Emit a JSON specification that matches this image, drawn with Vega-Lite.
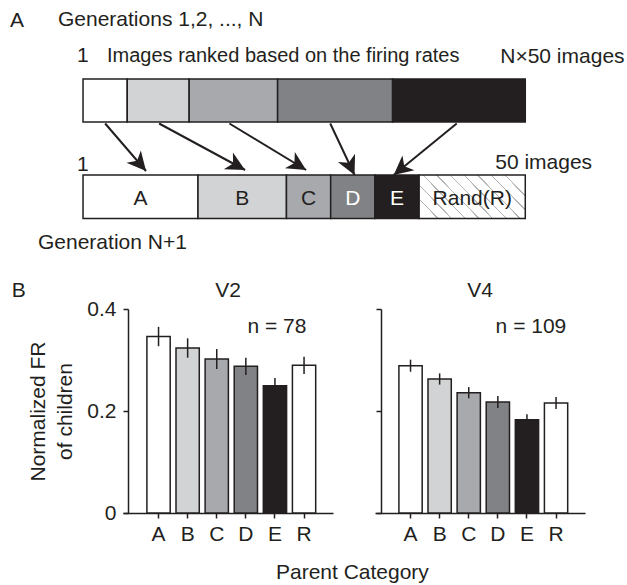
{
  "$schema": "https://vega.github.io/schema/vega-lite/v6.json",
  "padding": {"left": 10, "top": 0, "right": 0, "bottom": 0},
  "spacing": 20,
  "datasets": {
    "segments": [
      {"bar": "parents", "cat": "A", "from": 0, "to": 0.1, "top": 7.9, "bottom": 12.2, "label": ""},
      {"bar": "parents", "cat": "B", "from": 0.1, "to": 0.24, "top": 7.9, "bottom": 12.2, "label": ""},
      {"bar": "parents", "cat": "C", "from": 0.24, "to": 0.44, "top": 7.9, "bottom": 12.2, "label": ""},
      {"bar": "parents", "cat": "D", "from": 0.44, "to": 0.7, "top": 7.9, "bottom": 12.2, "label": ""},
      {"bar": "parents", "cat": "E", "from": 0.7, "to": 1.0, "top": 7.9, "bottom": 12.2, "label": ""},
      {"bar": "children", "cat": "A", "from": 0, "to": 0.26, "top": 17.5, "bottom": 21.85, "label": "A"},
      {"bar": "children", "cat": "B", "from": 0.26, "to": 0.46, "top": 17.5, "bottom": 21.85, "label": "B"},
      {"bar": "children", "cat": "C", "from": 0.46, "to": 0.56, "top": 17.5, "bottom": 21.85, "label": "C"},
      {"bar": "children", "cat": "D", "from": 0.56, "to": 0.66, "top": 17.5, "bottom": 21.85, "label": "D"},
      {"bar": "children", "cat": "E", "from": 0.66, "to": 0.76, "top": 17.5, "bottom": 21.85, "label": "E"},
      {"bar": "children", "cat": "R", "from": 0.76, "to": 1.0, "top": 17.5, "bottom": 21.85, "label": "Rand(R)"}
    ],
    "arrows": [
      {"sx": 0.05, "sy": 12.35, "tx": 0.1425, "ty": 17.1},
      {"sx": 0.172, "sy": 12.35, "tx": 0.3665, "ty": 17.0},
      {"sx": 0.331, "sy": 12.35, "tx": 0.5045, "ty": 17.0},
      {"sx": 0.559, "sy": 12.35, "tx": 0.614, "ty": 17.5},
      {"sx": 0.845, "sy": 12.35, "tx": 0.7025, "ty": 17.5}
    ],
    "notes": [
      {"text": "A", "x": -0.165, "y": 2.7, "size": "l"},
      {"text": "Generations 1,2, ..., N", "x": -0.0566, "y": 2.6, "size": "l"},
      {"text": "1", "x": -0.0136, "y": 6.2, "size": "l"},
      {"text": "Images ranked based on the firing rates", "x": 0.0543, "y": 6.2, "size": "s"},
      {"text": "N×50 images", "x": 0.9434, "y": 6.25, "size": "l"},
      {"text": "1", "x": -0.0136, "y": 17.1, "size": "l"},
      {"text": "50 images", "x": 0.932, "y": 16.85, "size": "l"},
      {"text": "Generation N+1", "x": -0.1018, "y": 24.9, "size": "l"}
    ],
    "fr": [
      {"area": "V2", "cat": "A", "fr": 0.346, "err": 0.019},
      {"area": "V2", "cat": "B", "fr": 0.3235, "err": 0.019},
      {"area": "V2", "cat": "C", "fr": 0.302, "err": 0.0196},
      {"area": "V2", "cat": "D", "fr": 0.2876, "err": 0.017},
      {"area": "V2", "cat": "E", "fr": 0.2497, "err": 0.015},
      {"area": "V2", "cat": "R", "fr": 0.2895, "err": 0.017},
      {"area": "V4", "cat": "A", "fr": 0.2888, "err": 0.0118},
      {"area": "V4", "cat": "B", "fr": 0.2627, "err": 0.011},
      {"area": "V4", "cat": "C", "fr": 0.2359, "err": 0.011},
      {"area": "V4", "cat": "D", "fr": 0.2176, "err": 0.0118},
      {"area": "V4", "cat": "E", "fr": 0.183, "err": 0.0105},
      {"area": "V4", "cat": "R", "fr": 0.2157, "err": 0.0118}
    ]
  },
  "vconcat": [
    {
      "width": 504,
      "height": 260,
      "layer": [
        {
          "data": {"name": "segments"},
          "transform": [{"filter": "datum.cat !== 'R'"}],
          "mark": {"type": "rect", "stroke": "#231f20", "strokeWidth": 1.5},
          "encoding": {
            "x": {"field": "from", "type": "quantitative", "scale": {"domain": [0.0904, 1.23], "nice": false, "zero": false}, "axis": null},
            "x2": {"field": "to"},
            "y": {"field": "top", "type": "quantitative", "scale": {"domain": [0, 26], "reverse": true, "nice": false, "zero": false}, "axis": null},
            "y2": {"field": "bottom"},
            "fill": {"field": "cat", "type": "nominal", "scale": {"domain": ["A", "B", "C", "D", "E", "R"], "range": ["#ffffff", "#d1d3d4", "#a7a9ac", "#808285", "#231f20", "#ffffff"]}, "legend": null}
          }
        },
        {
          "data": {"name": "segments"},
          "transform": [{"filter": "datum.cat === 'R'"}],
          "mark": {
            "type": "rect", "stroke": "#231f20", "strokeWidth": 1.5,
            "fill": {
              "gradient": "linear", "x1": 0, "y1": 0.7, "x2": 1, "y2": 0.3,
              "stops": [
                {"offset": 0, "color": "#ffffff"},
                {"offset": 0.044, "color": "#ffffff"}, {"offset": 0.045, "color": "#b4b4b4"}, {"offset": 0.055, "color": "#b4b4b4"}, {"offset": 0.056, "color": "#ffffff"},
                {"offset": 0.155, "color": "#ffffff"}, {"offset": 0.156, "color": "#b4b4b4"}, {"offset": 0.166, "color": "#b4b4b4"}, {"offset": 0.167, "color": "#ffffff"},
                {"offset": 0.266, "color": "#ffffff"}, {"offset": 0.267, "color": "#b4b4b4"}, {"offset": 0.277, "color": "#b4b4b4"}, {"offset": 0.278, "color": "#ffffff"},
                {"offset": 0.377, "color": "#ffffff"}, {"offset": 0.378, "color": "#b4b4b4"}, {"offset": 0.388, "color": "#b4b4b4"}, {"offset": 0.389, "color": "#ffffff"},
                {"offset": 0.488, "color": "#ffffff"}, {"offset": 0.489, "color": "#b4b4b4"}, {"offset": 0.499, "color": "#b4b4b4"}, {"offset": 0.5, "color": "#ffffff"},
                {"offset": 0.599, "color": "#ffffff"}, {"offset": 0.6, "color": "#b4b4b4"}, {"offset": 0.61, "color": "#b4b4b4"}, {"offset": 0.611, "color": "#ffffff"},
                {"offset": 0.71, "color": "#ffffff"}, {"offset": 0.711, "color": "#b4b4b4"}, {"offset": 0.721, "color": "#b4b4b4"}, {"offset": 0.722, "color": "#ffffff"},
                {"offset": 0.821, "color": "#ffffff"}, {"offset": 0.822, "color": "#b4b4b4"}, {"offset": 0.832, "color": "#b4b4b4"}, {"offset": 0.833, "color": "#ffffff"},
                {"offset": 0.932, "color": "#ffffff"}, {"offset": 0.933, "color": "#b4b4b4"}, {"offset": 0.943, "color": "#b4b4b4"}, {"offset": 0.944, "color": "#ffffff"},
                {"offset": 1, "color": "#ffffff"}
              ]
            }
          },
          "encoding": {
            "x": {"field": "from", "type": "quantitative", "scale": {"domain": [0.0904, 1.23], "nice": false, "zero": false}, "axis": null},
            "x2": {"field": "to"},
            "y": {"field": "top", "type": "quantitative", "scale": {"domain": [0, 26], "reverse": true, "nice": false, "zero": false}, "axis": null},
            "y2": {"field": "bottom"}
          }
        },
        {
          "data": {"name": "arrows"},
          "mark": {"type": "rule", "color": "#231f20", "strokeWidth": 2},
          "encoding": {
            "x": {"field": "sx", "type": "quantitative", "scale": {"domain": [0.0904, 1.23], "nice": false, "zero": false}, "axis": null},
            "y": {"field": "sy", "type": "quantitative", "scale": {"domain": [0, 26], "reverse": true, "nice": false, "zero": false}, "axis": null},
            "x2": {"field": "tx"},
            "y2": {"field": "ty"}
          }
        },
        {
          "data": {"name": "arrows"},
          "transform": [{"calculate": "-atan2((datum.tx - datum.sx) * 442.3, (datum.ty - datum.sy) * 10) * 180 / PI", "as": "ang"}],
          "mark": {"type": "point", "shape": "M0,0L-0.5,-1L0,-0.72L0.5,-1Z", "size": 1444, "filled": true, "color": "#231f20", "opacity": 1, "strokeWidth": 0},
          "encoding": {
            "x": {"field": "tx", "type": "quantitative", "scale": {"domain": [0.0904, 1.23], "nice": false, "zero": false}, "axis": null},
            "y": {"field": "ty", "type": "quantitative", "scale": {"domain": [0, 26], "reverse": true, "nice": false, "zero": false}, "axis": null},
            "angle": {"field": "ang", "type": "quantitative", "scale": null}
          }
        },
        {
          "data": {"name": "segments"},
          "transform": [{"filter": "datum.bar === 'children'"}, {"calculate": "(datum.from + datum.to) / 2", "as": "mid"}],
          "mark": {"type": "text", "fontSize": 21, "align": "center", "baseline": "middle"},
          "encoding": {
            "x": {"field": "mid", "type": "quantitative", "scale": {"domain": [0.0904, 1.23], "nice": false, "zero": false}, "axis": null},
            "y": {"datum": 19.85, "type": "quantitative", "scale": {"domain": [0, 26], "reverse": true, "nice": false, "zero": false}, "axis": null},
            "text": {"field": "label"},
            "color": {"condition": {"test": "datum.cat === 'D' || datum.cat === 'E'", "value": "#ffffff"}, "value": "#231f20"}
          }
        },
        {
          "data": {"name": "notes"},
          "transform": [{"filter": "datum.size === 'l'"}],
          "mark": {"type": "text", "fontSize": 21, "align": "left", "baseline": "alphabetic", "color": "#231f20"},
          "encoding": {
            "x": {"field": "x", "type": "quantitative", "scale": {"domain": [0.0904, 1.23], "nice": false, "zero": false}, "axis": null},
            "y": {"field": "y", "type": "quantitative", "scale": {"domain": [0, 26], "reverse": true, "nice": false, "zero": false}, "axis": null},
            "text": {"field": "text"}
          }
        },
        {
          "data": {"name": "notes"},
          "transform": [{"filter": "datum.size === 's'"}],
          "mark": {"type": "text", "fontSize": 20, "align": "left", "baseline": "alphabetic", "color": "#231f20"},
          "encoding": {
            "x": {"field": "x", "type": "quantitative", "scale": {"domain": [0.0904, 1.23], "nice": false, "zero": false}, "axis": null},
            "y": {"field": "y", "type": "quantitative", "scale": {"domain": [0, 26], "reverse": true, "nice": false, "zero": false}, "axis": null},
            "text": {"field": "text"}
          }
        }
      ]
    },
    {
      "title": {"text": "B", "orient": "left", "anchor": "end", "angle": 0, "align": "right", "baseline": "top", "offset": -12},
      "hconcat": [
        {
          "title": {"text": "Parent Category", "orient": "bottom", "anchor": "middle", "offset": 18, "dx": 46},
          "spacing": 42,
          "hconcat": [
            {
              "width": 210,
              "height": 204,
              "title": {"text": "V2", "offset": -3},
              "data": {"name": "fr"},
              "transform": [{"filter": "datum.area === 'V2'"}],
              "encoding": {
                "x": {"field": "cat", "type": "nominal", "scale": {"paddingInner": 0.2, "paddingOuter": 0.708, "align": 0.58}, "axis": {"title": null, "labelAngle": 0, "labelPadding": 5}},
                "y": {"field": "fr", "type": "quantitative", "scale": {"domain": [0, 0.4], "nice": false}, "axis": {"values": [0, 0.2, 0.4], "format": ".1~f", "title": ["Normalized FR", "of children"], "titleLineHeight": 27, "labelPadding": 7, "titlePadding": 11, "offset": -5}}
              },
              "layer": [
                {
                  "mark": {"type": "bar", "stroke": "#231f20", "strokeWidth": 1.5},
                  "encoding": {
                    "fill": {"field": "cat", "type": "nominal", "scale": {"domain": ["A", "B", "C", "D", "E", "R"], "range": ["#ffffff", "#d1d3d4", "#a7a9ac", "#808285", "#231f20", "#ffffff"]}, "legend": null}
                  }
                },
                {
                  "mark": {"type": "errorbar", "color": "#231f20", "thickness": 1.5},
                  "encoding": {"yError": {"field": "err"}}
                },
                {
                  "transform": [{"filter": "datum.cat === 'E'"}],
                  "mark": {"type": "text", "fontSize": 21, "color": "#231f20", "dx": 2, "baseline": "middle"},
                  "encoding": {"x": {"datum": "E"}, "y": {"datum": 0.365}, "text": {"value": "n = 78"}}
                }
              ]
            },
            {
              "width": 210,
              "height": 204,
              "title": {"text": "V4", "offset": 7},
              "data": {"name": "fr"},
              "transform": [{"filter": "datum.area === 'V4'"}],
              "encoding": {
                "x": {"field": "cat", "type": "nominal", "scale": {"paddingInner": 0.2, "paddingOuter": 0.708, "align": 0.58}, "axis": {"title": null, "labelAngle": 0, "labelPadding": 5}},
                "y": {"field": "fr", "type": "quantitative", "scale": {"domain": [0, 0.4], "nice": false}, "axis": {"values": [0, 0.2, 0.4], "labels": false, "title": null, "offset": -6, "minExtent": 0}}
              },
              "layer": [
                {
                  "mark": {"type": "bar", "stroke": "#231f20", "strokeWidth": 1.5},
                  "encoding": {
                    "fill": {"field": "cat", "type": "nominal", "scale": {"domain": ["A", "B", "C", "D", "E", "R"], "range": ["#ffffff", "#d1d3d4", "#a7a9ac", "#808285", "#231f20", "#ffffff"]}, "legend": null}
                  }
                },
                {
                  "mark": {"type": "errorbar", "color": "#231f20", "thickness": 1.5},
                  "encoding": {"yError": {"field": "err"}}
                },
                {
                  "transform": [{"filter": "datum.cat === 'E'"}],
                  "mark": {"type": "text", "fontSize": 21, "color": "#231f20", "dx": 4, "baseline": "middle"},
                  "encoding": {"x": {"datum": "E"}, "y": {"datum": 0.365}, "text": {"value": "n = 109"}}
                }
              ]
            }
          ]
        }
      ]
    }
  ],
  "config": {
    "font": "Liberation Sans",
    "view": {"stroke": null},
    "axis": {
      "domainColor": "#231f20", "domainWidth": 1.5, "tickColor": "#231f20", "tickWidth": 1.5, "tickSize": 5,
      "labelColor": "#231f20", "labelFontSize": 21, "titleColor": "#231f20", "titleFontSize": 21, "titleFontWeight": "normal", "grid": false
    },
    "title": {"fontSize": 21, "fontWeight": "normal", "color": "#231f20"}
  }
}
